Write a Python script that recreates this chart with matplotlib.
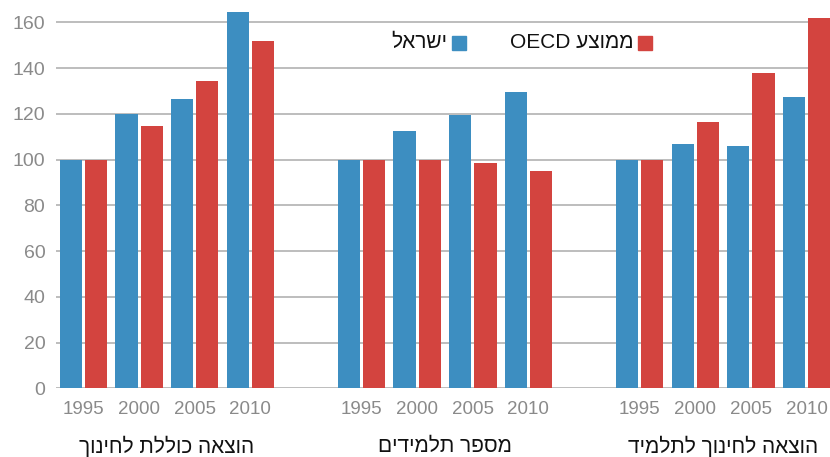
import matplotlib
matplotlib.use("Agg")
import matplotlib.pyplot as plt
from matplotlib.patches import Rectangle

plt.rcParams['font.family'] = ['Liberation Sans', 'DejaVu Sans']

years = ['1995', '2000', '2005', '2010']
groups = ['הוצאה כוללת לחינוך', 'מספר תלמידים', 'הוצאה לחינוך לתלמיד']
israel = [
    [100, 119.9, 126.3, 164.3],
    [100, 112.4, 119.3, 129.4],
    [100, 106.7, 105.8, 127.2],
]
oecd = [
    [100, 114.5, 134.2, 151.7],
    [100, 99.7, 98.4, 94.9],
    [100, 116.3, 137.7, 161.8],
]
series_names = ['ישראל', 'ממוצע OECD']
yticks = [0, 20, 40, 60, 80, 100, 120, 140, 160]

blue = '#3d8ec1'
red = '#d3443f'
gray = '#8a8a8a'

def vis(s):
    # visual (left-to-right) order for RTL Hebrew text with Latin words
    parts = s.split(' ')
    out = []
    for p in reversed(parts):
        if any('\u0590' <= c <= '\u05ff' for c in p):
            out.append(p[::-1])
        else:
            out.append(p)
    return ' '.join(out)

W, H = 830, 457
fig = plt.figure(figsize=(W / 100, H / 100), dpi=100)
ax_left, ax_right = 55.7, 834.3
ax_bottom, ax_top = 388.3, 4.0
ax = fig.add_axes([ax_left / W, 1 - ax_bottom / H, (ax_right - ax_left) / W, (ax_bottom - ax_top) / H])

bw = 0.40
off = 0.227
positions = []
labels = []
for g in range(len(groups)):
    for i, yr in enumerate(years):
        x = g * 5 + i
        positions.append(x)
        labels.append(yr)
        ax.bar(x - off, israel[g][i], width=bw, color=blue, zorder=3)
        ax.bar(x + off, oecd[g][i], width=bw, color=red, zorder=3)

ax.set_xlim(-0.5, 13.5)
ax.set_ylim(0, 168)
ax.set_yticks(yticks)
ax.set_yticklabels([str(v) for v in yticks])
ax.tick_params(axis='y', length=0, pad=7.5, labelsize=14, labelcolor=gray)
ax.set_xticks([])
ax.yaxis.grid(True, color='#b8b8b8', linewidth=1.3, zorder=0)
for s in ax.spines.values():
    s.set_visible(False)

ax_h = ax_bottom - ax_top
trans = ax.get_xaxis_transform()
for x, lab in zip(positions, labels):
    ax.text(x, -(410 - ax_bottom) / ax_h, lab, transform=trans, ha='center', va='center',
            fontsize=13.5, color=gray)
for g, name in enumerate(groups):
    ax.text(g * 5 + 1.5, -(446 - ax_bottom) / ax_h, vis(name), transform=trans,
            ha='center', va='center', fontsize=15, color='#111111')

# legend
def square(x0, y0, color):
    fig.add_artist(Rectangle((x0 / W, 1 - (y0 + 14) / H), 14 / W, 14 / H,
                             transform=fig.transFigure, color=color))

square(452, 35.5, blue)
fig.text(447 / W, 1 - 42 / H, vis(series_names[0]), ha='right', va='center', fontsize=15, color='#111111')
square(638, 35.5, red)
fig.text(633 / W, 1 - 42 / H, vis(series_names[1]), ha='right', va='center', fontsize=15, color='#111111')

fig.savefig('out.png', dpi=100)
